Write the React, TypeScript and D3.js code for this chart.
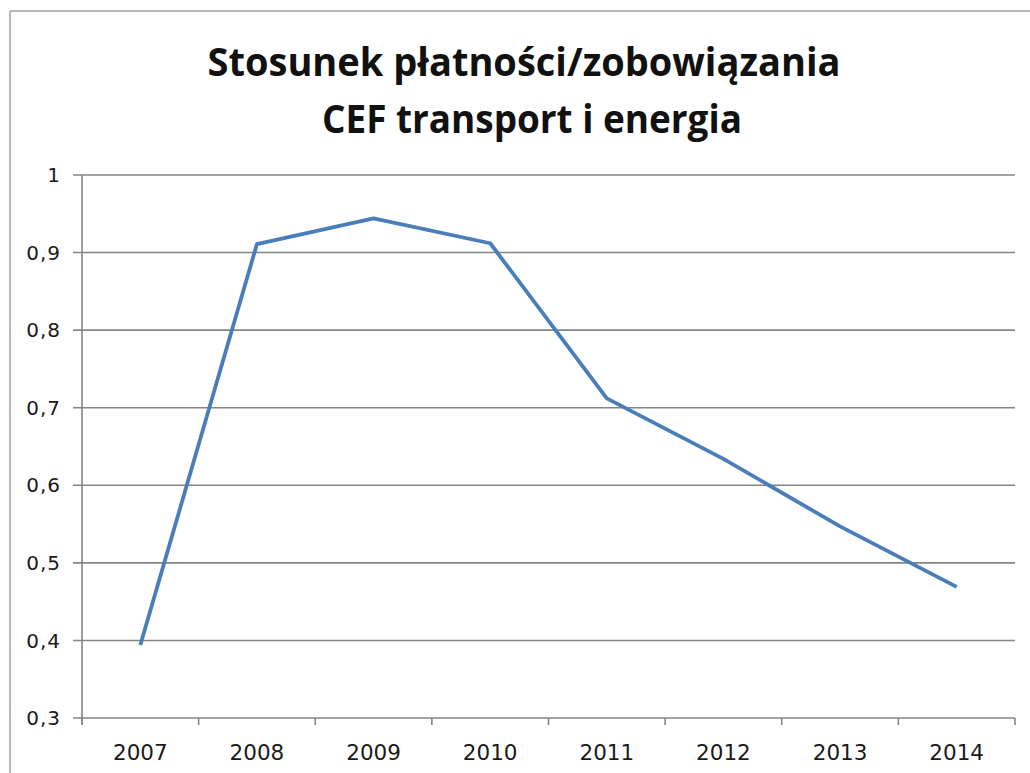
import React from "react";
import * as d3 from "d3";

const titleLines = ["Stosunek płatności/zobowiązania", "CEF transport i energia"];
const years = ["2007", "2008", "2009", "2010", "2011", "2012", "2013", "2014"];
const ratios = [0.394, 0.911, 0.944, 0.912, 0.712, 0.634, 0.547, 0.469];
const yTicks = [0.3, 0.4, 0.5, 0.6, 0.7, 0.8, 0.9, 1];

const W = 1030;
const H = 773;
const plot = { left: 82, right: 1015, top: 175, bottom: 718 };

export default function App() {
  const x = d3.scaleBand<string>().domain(years).range([plot.left, plot.right]);
  const y = d3.scaleLinear().domain([0.3, 1]).range([plot.bottom, plot.top]);
  const line = d3
    .line<number>()
    .x((_, i) => (x(years[i]) as number) + x.bandwidth() / 2)
    .y((d) => y(d));
  const fmt = (v: number) => d3.format("~g")(v).replace(".", ",");
  const gridColor = "#858585";

  return (
    <svg
      width={W}
      height={H}
      style={{ position: "absolute", left: 0, top: 0, background: "#fff" }}
    >
      <rect x={0} y={0} width={W} height={H} fill="#fff" />
      <line x1={10} x2={W} y1={11} y2={11} stroke="#b8b8b8" strokeWidth={2} />
      <line x1={10} x2={10} y1={11} y2={H} stroke="#b8b8b8" strokeWidth={2} />

      <text
        x={524}
        y={76}
        textAnchor="middle"
        fontFamily="'Open Sans', sans-serif"
        fontWeight={700}
        fontSize={39}
        textLength={633}
        lengthAdjust="spacingAndGlyphs"
        fill="#111"
      >
        {titleLines[0]}
      </text>
      <text
        x={532}
        y={133}
        textAnchor="middle"
        fontFamily="'Open Sans', sans-serif"
        fontWeight={700}
        fontSize={39}
        textLength={420}
        lengthAdjust="spacingAndGlyphs"
        fill="#111"
      >
        {titleLines[1]}
      </text>

      {yTicks.map((t) => (
        <g key={t}>
          <line
            x1={plot.left - 9}
            x2={plot.right}
            y1={y(t)}
            y2={y(t)}
            stroke={gridColor}
            strokeWidth={1.6}
          />
          <text
            x={61}
            y={y(t)}
            dy="0.36em"
            textAnchor="end"
            fontFamily="'DejaVu Sans', sans-serif"
            fontSize={20}
            letterSpacing={1}
            fill="#1a1a1a"
          >
            {fmt(t)}
          </text>
        </g>
      ))}

      <line
        x1={plot.left}
        x2={plot.left}
        y1={plot.top}
        y2={plot.bottom + 7}
        stroke={gridColor}
        strokeWidth={1.6}
      />

      {[...years.map((yr) => x(yr) as number), plot.right].map((tx, i) => (
        <line
          key={"t" + i}
          x1={tx}
          x2={tx}
          y1={plot.bottom}
          y2={plot.bottom + 7}
          stroke={gridColor}
          strokeWidth={1.6}
        />
      ))}
      {years.map((yr) => (
        <text
          key={"l" + yr}
          x={(x(yr) as number) + x.bandwidth() / 2}
          y={760}
          textAnchor="middle"
          fontFamily="'DejaVu Sans', sans-serif"
          fontSize={21.5}
          fill="#1a1a1a"
        >
          {yr}
        </text>
      ))}

      <path
        d={line(ratios) || ""}
        fill="none"
        stroke="#4a7ebb"
        strokeWidth={3.8}
        strokeLinejoin="round"
      />
    </svg>
  );
}
